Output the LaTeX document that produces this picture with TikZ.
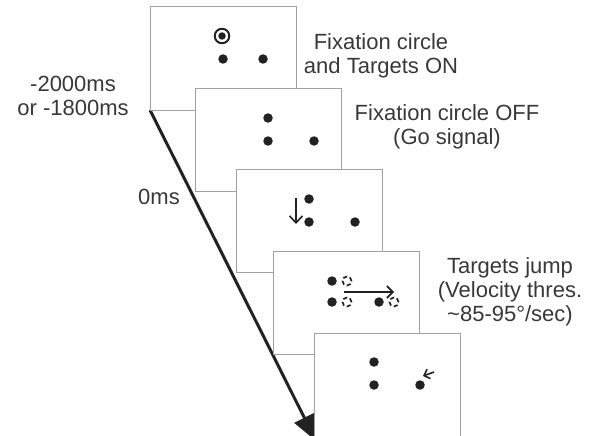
\documentclass[tikz,border=0pt]{standalone}
\usepackage{fontspec}
\setmainfont{Liberation Sans}
\usetikzlibrary{arrows.meta}
\definecolor{framegray}{HTML}{A0A0A0}
\definecolor{ink}{HTML}{383838}
\definecolor{dotc}{HTML}{222222}
\begin{document}
\begin{tikzpicture}[x=1pt,y=-1pt,
  screen/.style={draw=framegray,fill=white,line width=1pt,minimum width=146pt,minimum height=103pt,inner sep=0pt},
  label/.style={text=ink,align=center,inner sep=0pt,font=\fontsize{22}{24}\selectfont},
  target/.style={circle,fill=dotc,minimum size=9.5pt,inner sep=0pt},
  ghost/.style={circle,draw=dotc,dash pattern=on 4.2pt off 2.6pt,line width=1.7pt,minimum size=9pt,inner sep=0pt},
  move/.style={draw=dotc,line width=1.6pt,-{Straight Barb[length=6pt,width=12pt,line width=1.6pt]}}
]
\useasboundingbox (0,0) rectangle (594,436);
\clip (0,0) rectangle (594,436);
% time arrow (behind screens)
\coordinate (tstart) at (150,110);
\coordinate (tend) at (316,441);
\draw[line width=3pt,draw=dotc,-{Triangle[length=26pt,width=22pt]}] (tstart) -- (tend);
% screens
\node[screen] (f1) at (223,58.5) {};
\node[screen] (f2) at (268,140) {};
\node[screen] (f3) at (309,221) {};
\node[screen] (f4) at (346,303) {};
\node[screen,minimum height=110pt] (f5) at (387,388) {};
% frame 1
\node[circle,draw=dotc,line width=2pt,minimum size=14.5pt,inner sep=0pt] (fixring) at (222,36) {};
\node[target,minimum size=7.5pt] (fixdot) at (222,36) {};
\node[target] (a1) at (223,59) {};
\node[target] (a2) at (263,59) {};
% frame 2
\node[target] (b0) at (268,118) {};
\node[target] (b1) at (268,141) {};
\node[target] (b2) at (314,141) {};
% frame 3
\node[target] (c0) at (309,199) {};
\node[target] (c1) at (309,222) {};
\node[target] (c2) at (355,222) {};
\coordinate (cdA) at (296,198);
\coordinate (cdB) at (296,224);
\draw[move,-{Straight Barb[length=7pt,width=13pt,line width=1.6pt]}] (cdA) -- (cdB);
% frame 4
\node[target] (d0) at (332,281) {};
\node[target] (d1) at (332,302) {};
\node[target] (d2) at (379,302) {};
\node[ghost] (g0) at (347,281) {};
\node[ghost] (g1) at (347,302) {};
\node[ghost] (g2) at (394,302) {};
\coordinate (jA) at (344,292);
\coordinate (jB) at (394,292);
\draw[move] (jA) -- (jB);
% frame 5
\node[target] (e0) at (374,362) {};
\node[target] (e1) at (374,385) {};
\node[target] (e2) at (420,385) {};
\coordinate (rA) at (434,372);
\coordinate (rB) at (423,376);
\draw[move,-{Straight Barb[length=5pt,width=10pt,line width=1.6pt]}] (rA) -- (rB);
% labels
\node[label] (t1) at (381,55.5) {Fixation circle\\and Targets ON};
\node[label] (t2) at (447,126.5) {Fixation circle OFF\\(Go signal)};
\node[label] (t3) at (73,95.5) {-2000ms\\or -1800ms};
\node[label] (t4) at (159,197) {0ms};
\node[label] (t5) at (510,291.5) {Targets jump\\(Velocity thres.\\\textasciitilde85-95°/sec)};
\end{tikzpicture}
\end{document}
